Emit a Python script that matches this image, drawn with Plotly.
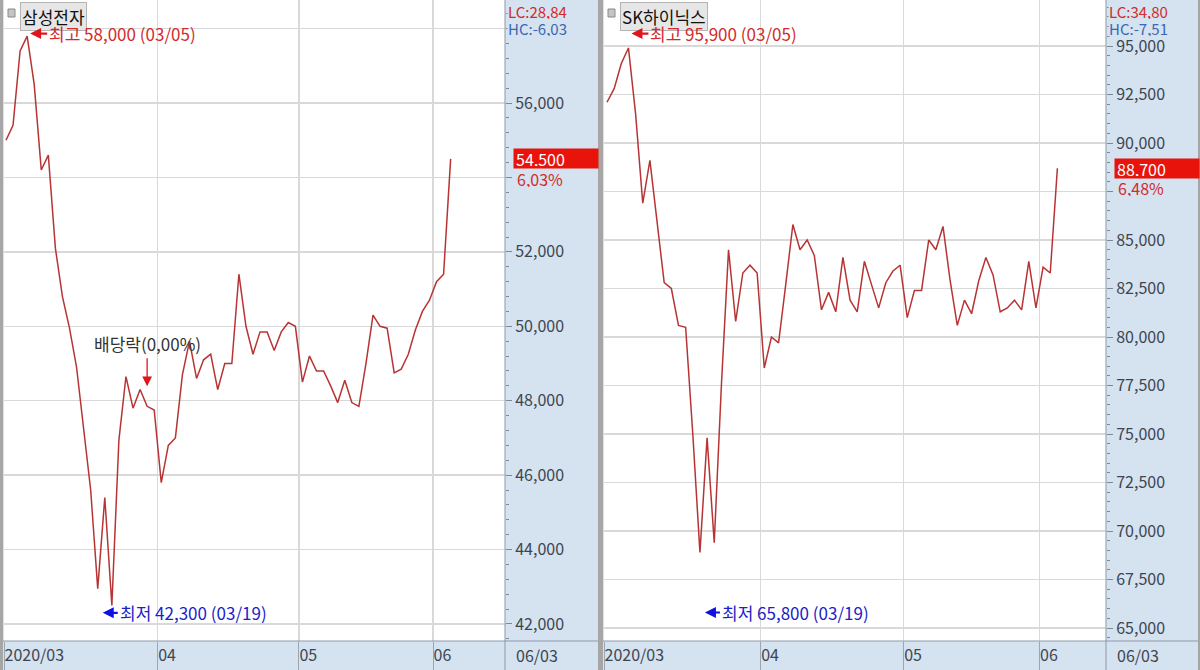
import plotly.graph_objects as go

# ---------------- data ----------------
dates = [
    "03/02", "03/03", "03/04", "03/05", "03/06", "03/09", "03/10", "03/11", "03/12", "03/13",
    "03/16", "03/17", "03/18", "03/19", "03/20", "03/23", "03/24", "03/25", "03/26", "03/27",
    "03/30", "03/31",
    "04/01", "04/02", "04/03", "04/06", "04/07", "04/08", "04/09", "04/10", "04/13", "04/14",
    "04/16", "04/17", "04/20", "04/21", "04/22", "04/23", "04/24", "04/27", "04/28", "04/29",
    "05/04", "05/06", "05/07", "05/08", "05/11", "05/12", "05/13", "05/14", "05/15", "05/18",
    "05/19", "05/20", "05/21", "05/22", "05/25", "05/26", "05/27", "05/28", "05/29",
    "06/01", "06/02", "06/03",
]

sec_close = [
    55000, 55400, 57400, 57800, 56500, 54200, 54600, 52100, 50800, 49950,
    48900, 47300, 45600, 42950, 45400, 42500, 46950, 48650, 47800, 48300,
    47850, 47750,
    45800, 46800, 47000, 48700, 49600, 48600, 49100, 49250, 48300, 49000,
    49000, 51400, 50000, 49250, 49850, 49850, 49350, 49850, 50100, 50000,
    48500, 49200, 48800, 48800, 48400, 47950, 48550, 47950, 47850, 49000,
    50300, 50000, 49950, 48750, 48850, 49250, 49900, 50400, 50700,
    51200, 51400, 54500,
]

hynix_close = [
    92100, 92800, 94100, 94900, 91500, 86900, 89100, 85800, 82800, 82500,
    80600, 80500, 75000, 68900, 74800, 69400, 77500, 84500, 80800, 83300,
    83700, 83300,
    78400, 80000, 79700, 82700, 85800, 84500, 85000, 84200, 81400, 82300,
    81300, 84100, 81900, 81300, 83900, 82700, 81500, 82800, 83400, 83700,
    81000, 82400, 82400, 85000, 84500, 85700, 82900, 80600, 81900, 81200,
    82900, 84100, 83200, 81300, 81500, 81900, 81400, 83900, 81500,
    83600, 83300, 88700,
]

sec_name = "삼성전자"
hynix_name = "SK하이닉스"
sec_high, sec_high_date = 58000, "03/05"
sec_low, sec_low_date = 42300, "03/19"
hynix_high, hynix_high_date = 95900, "03/05"
hynix_low, hynix_low_date = 65800, "03/19"
exdiv_date = "03/30"
exdiv_text = "배당락(0,00%)"
month_labels = ["2020/03", "04", "05", "06"]

sec_yticks = [42000, 44000, 46000, 48000, 50000, 52000, 54000, 56000, 58000]
sec_hidden_labels = [54000, 58000]
hynix_yticks = [65000, 67500, 70000, 72500, 75000, 77500, 80000, 82500, 85000,
                87500, 90000, 92500, 95000]
hynix_hidden_labels = [87500]

# ---------------- helpers ----------------
W, H = 1200, 670
PANEL = "#d5e2f0"
GRID = "#d9d9d9"
LINE = "#b83434"
RED = "#d42a2a"
BLUE = "#1a22c8"
HCBLUE = "#3a68b0"
AXTXT = "#3d4650"
FONT = "Noto Sans CJK KR, DejaVu Sans, sans-serif"


def fx(px):
    return px / W


def fy(py):
    return 1 - py / H


def dec(v):
    return f"{v:.2f}".replace(".", ",")


xs = list(range(len(dates)))
month_pos = [i - 0.5 for i in range(1, len(dates)) if dates[i][:2] != dates[i - 1][:2]]

panels = [
    dict(name=sec_name, close=sec_close, hi=sec_high, hid=sec_high_date, lo=sec_low,
         lod=sec_low_date, yticks=sec_yticks, hidden=sec_hidden_labels, minor=400,
         xr=[-0.28, 70.7], yr=[41543, 58769], x0=4, x1=505, xa="x", ya="y"),
    dict(name=hynix_name, close=hynix_close, hi=hynix_high, hid=hynix_high_date,
         lo=hynix_low, lod=hynix_low_date, yticks=hynix_yticks, hidden=hynix_hidden_labels,
         minor=500, xr=[-0.42, 69.8], yr=[64330, 97371], x0=604, x1=1106,
         xa="x2", ya="y2"),
]

fig = go.Figure()
annotations = []
shapes = []
layout_axes = {}

for k, p in enumerate(panels):
    sfx = "" if k == 0 else "2"
    fig.add_trace(go.Scatter(
        x=xs, y=p["close"], mode="lines", line=dict(color=LINE, width=1.5),
        xaxis=p["xa"], yaxis=p["ya"], showlegend=False, hoverinfo="skip"))

    xr = p["xr"]
    layout_axes["xaxis" + sfx] = dict(
        domain=[fx(p["x0"]), fx(p["x1"])], range=xr, anchor=p["ya"],
        tickvals=[xr[0]] + month_pos, ticktext=month_labels,
        ticklabelposition="outside right", ticks="outside", ticklen=29,
        tickcolor="#9aa6b4", tickwidth=1,
        showgrid=True, gridcolor=GRID, gridwidth=1.5, zeroline=False, showline=False,
        tickfont=dict(family=FONT, size=16, color=AXTXT), fixedrange=True)
    layout_axes["yaxis" + sfx] = dict(
        domain=[fy(641), 1], range=p["yr"], anchor=p["xa"], side="right",
        tickvals=p["yticks"],
        ticktext=["" if v in p["hidden"] else f"{v:,}" for v in p["yticks"]],
        ticks="outside", ticklen=6, tickcolor="#7d8894", tickwidth=1,
        minor=dict(dtick=p["minor"], ticks="outside", ticklen=3, tickcolor="#7d8894",
                   showgrid=False),
        showgrid=True, gridcolor=GRID, gridwidth=1.5, zeroline=False, showline=False,
        tickfont=dict(family=FONT, size=16, color=AXTXT), fixedrange=True)

    close = p["close"]
    last, prev = close[-1], close[-2]
    pct = (last / prev - 1) * 100
    lc = (last / p["lo"] - 1) * 100
    hc = (last / p["hi"] - 1) * 100

    # name box and icon
    annotations.append(dict(
        xref="paper", yref="paper", x=fx(p["x0"] + 16), y=fy(2), xanchor="left",
        yanchor="top", text=p["name"], showarrow=False, bgcolor="#e6e6e6",
        bordercolor="#b4b4b4", borderwidth=1, borderpad=1,
        font=dict(family=FONT, size=17, color="#111111")))
    shapes.append(dict(type="rect", xref="paper", yref="paper",
                       x0=fx(p["x0"] + 4), x1=fx(p["x0"] + 11), y0=fy(17), y1=fy(9),
                       fillcolor="#c4c4c4", line=dict(color="#8a8a8a", width=1)))

    # high / low
    annotations.append(dict(
        xref=p["xa"], yref=p["ya"], x=dates.index(p["hid"]), y=p["hi"],
        text=f"최고 {p['hi']:,} ({p['hid']})", showarrow=True,
        ax=20, ay=0, xanchor="left", arrowhead=2, arrowsize=1, arrowwidth=2.2,
        arrowcolor="#e0141e", standoff=3, yshift=-5,
        font=dict(family=FONT, size=17, color=RED)))
    annotations.append(dict(
        xref=p["xa"], yref=p["ya"], x=dates.index(p["lod"]), y=p["lo"],
        text=f"최저 {p['lo']:,} ({p['lod']})", showarrow=True,
        ax=20, ay=0, xanchor="left", arrowhead=2, arrowsize=1, arrowwidth=2.2,
        arrowcolor="#1010e0", standoff=5,
        font=dict(family=FONT, size=17, color=BLUE)))

    # LC / HC
    annotations.append(dict(
        xref="paper", yref="paper", x=fx(p["x1"] + 2), y=fy(11), xanchor="left",
        yanchor="middle", text=f"LC:{dec(lc)}", showarrow=False, bgcolor=PANEL,
        borderpad=0, height=16, font=dict(family=FONT, size=15, color=RED)))
    annotations.append(dict(
        xref="paper", yref="paper", x=fx(p["x1"] + 2), y=fy(28), xanchor="left",
        yanchor="middle", text=f"HC:{dec(hc)}", showarrow=False, bgcolor=PANEL,
        borderpad=0, height=16, font=dict(family=FONT, size=15, color=HCBLUE)))

    # last price box
    annotations.append(dict(
        xref="paper", yref=p["ya"], x=fx(p["x1"] + 8), y=last, xanchor="left",
        yanchor="middle", text=f"{last:,}", showarrow=False, bgcolor="#e8140c",
        width=80, height=15, align="left", borderpad=2,
        font=dict(family=FONT, size=16, color="#ffffff")))
    annotations.append(dict(
        xref="paper", yref=p["ya"], x=fx(p["x1"] + 11), y=last, yshift=-20,
        xanchor="left", yanchor="middle", text=f"{dec(pct)}%", showarrow=False,
        bgcolor=PANEL, borderpad=0, height=16,
        font=dict(family=FONT, size=16, color=RED)))

    # current date label in bottom strip
    annotations.append(dict(
        xref="paper", yref="paper", x=fx(p["x1"] + 9), y=fy(655), xanchor="left",
        yanchor="middle", text=dates[-1], showarrow=False,
        font=dict(family=FONT, size=16, color=AXTXT)))

    # separators
    shapes.append(dict(type="line", xref="paper", yref="paper", x0=fx(p["x1"]),
                       x1=fx(p["x1"]), y0=0, y1=1, line=dict(color="#8d99a8", width=1)))
    shapes.append(dict(type="line", xref="paper", yref="paper", x0=fx(p["x0"] - 4),
                       x1=fx(p["x0"] + 594), y0=fy(641), y1=fy(641),
                       line=dict(color="#8d99a8", width=1)))

# ex-dividend marker
ex_i = dates.index(exdiv_date)
annotations.append(dict(
    xref="x", yref="y", x=ex_i, y=sec_close[ex_i], text=exdiv_text, showarrow=True,
    ax=0, ay=-48, standoff=20, yanchor="bottom", arrowhead=2, arrowsize=1.5,
    arrowwidth=1.3, arrowcolor="#e0141e",
    font=dict(family=FONT, size=17, color="#333333")))

# outer borders
shapes.append(dict(type="rect", xref="paper", yref="paper", x0=0, x1=fx(3), y0=0, y1=1,
                   fillcolor="#a6a6a6", line=dict(width=0)))
shapes.append(dict(type="rect", xref="paper", yref="paper", x0=fx(598), x1=fx(603),
                   y0=0, y1=1, fillcolor="#a6a6a6", line=dict(width=0)))
shapes.append(dict(type="rect", xref="paper", yref="paper", x0=fx(1198), x1=1,
                   y0=0, y1=1, fillcolor="#a6a6a6", line=dict(width=0)))

fig.update_layout(
    width=W, height=H, margin=dict(l=0, r=0, t=0, b=0),
    paper_bgcolor=PANEL, plot_bgcolor="#ffffff",
    annotations=annotations, shapes=shapes, showlegend=False,
    font=dict(family=FONT), **layout_axes)

fig.write_html("out.html", config={"displayModeBar": False, "staticPlot": True},
               post_script="document.body.style.margin='0';document.body.style.overflow='hidden';")
